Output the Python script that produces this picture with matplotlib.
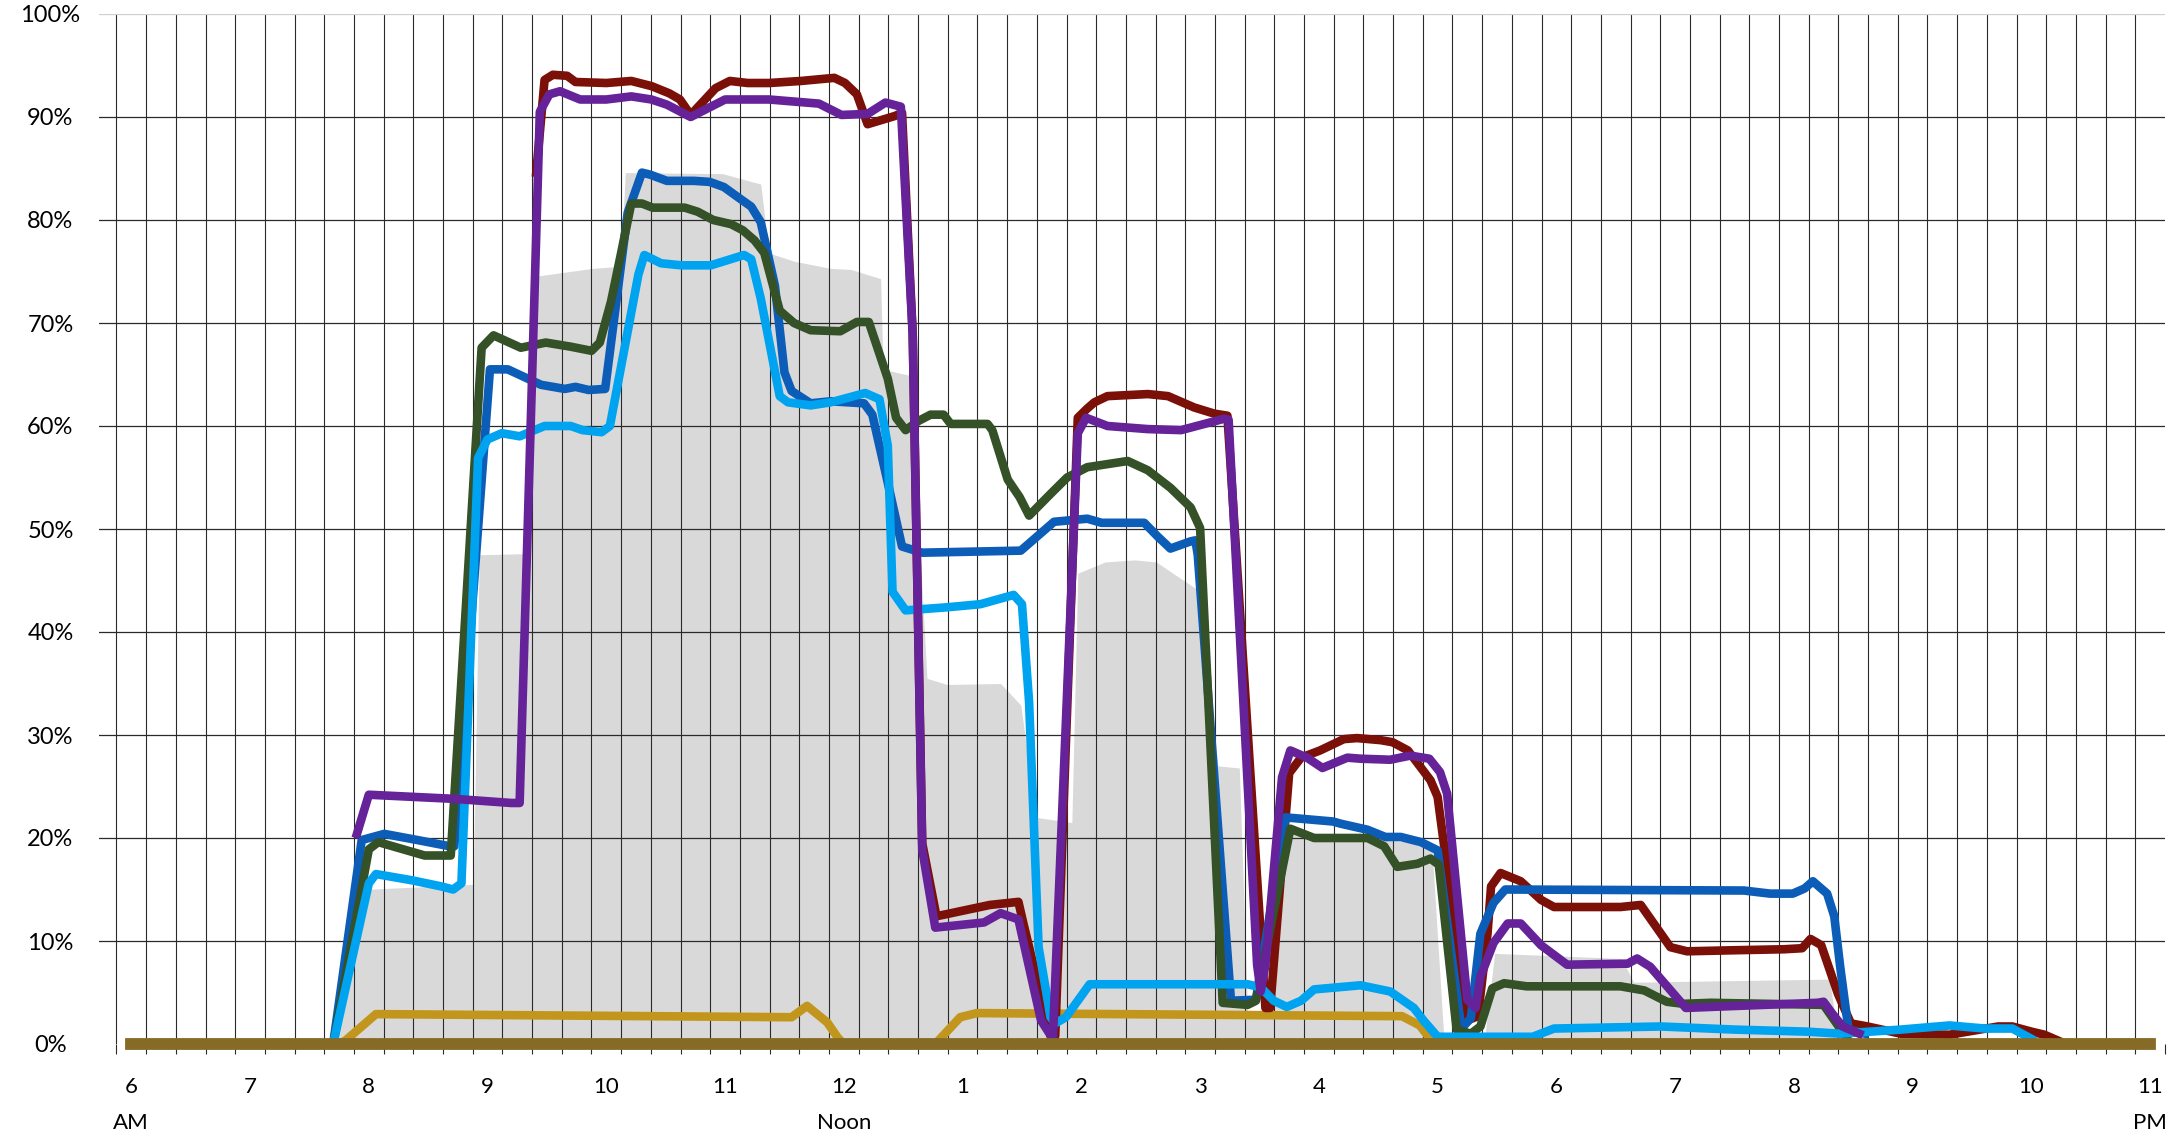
import matplotlib
matplotlib.use('Agg')
import matplotlib.pyplot as plt

# series (hours from midnight, percent)
area_t = [7.70, 7.95, 8.88, 8.93, 9.30, 9.38, 9.88, 10.12, 10.16, 10.98, 11.23, 11.30, 11.37, 11.58, 11.89,
          12.06, 12.31, 12.33, 12.56, 12.70, 12.87, 13.32, 13.49, 13.62, 13.92, 13.97, 14.20, 14.45, 14.63,
          14.81, 14.98, 15.15, 15.33, 15.40, 15.62, 15.72, 16.30, 16.95, 17.05, 17.40, 17.48, 18.55, 18.65,
          20.30, 20.38]
area_v = [0, 15.0, 15.5, 47.5, 47.6, 74.5, 75.3, 75.5, 84.6, 84.5, 83.7, 83.5, 76.8, 76.0, 75.3,
          75.2, 74.3, 65.5, 64.9, 35.5, 34.9, 35.0, 32.9, 22.0, 21.5, 45.7, 46.8, 47.0, 46.8,
          45.4, 44.1, 27.0, 26.8, 3.0, 3.0, 20.5, 20.0, 19.5, 1.0, 1.0, 8.8, 8.3, 6.0,
          6.3, 0]

gold_t = [6.00, 7.74, 7.80, 8.06, 11.56, 11.69, 11.86, 11.95, 12.00, 12.77, 12.98, 13.12, 16.70, 16.85,
          16.97, 23.00]
gold_v = [0, 0, 0.3, 2.9, 2.6, 3.7, 2.1, 0.6, 0, 0, 2.6, 3.0, 2.7, 1.8, 0, 0]

red_t = [9.41, 9.48, 9.55, 9.67, 9.74, 10.00, 10.21, 10.38, 10.53, 10.62, 10.71, 10.92, 11.04, 11.19,
         11.37, 11.64, 11.92, 12.01, 12.11, 12.20, 12.43, 12.49, 12.58, 12.66, 12.78, 13.23, 13.47, 13.51,
         13.74, 13.78, 13.97, 14.05, 14.11, 14.22, 14.56, 14.73, 14.95, 15.12, 15.23, 15.55, 15.59, 15.75,
         15.85, 16.01, 16.21, 16.32, 16.52, 16.62, 16.75, 16.94, 17.00, 17.25, 17.34, 17.42, 17.45, 17.53,
         17.70, 17.87, 17.98, 18.54, 18.71, 18.82, 18.96, 19.10, 19.49, 19.92, 20.07, 20.14, 20.23, 20.37,
         20.48, 20.62, 20.90, 21.31, 21.72, 21.84, 22.00, 22.11, 22.25]
red_v = [84.6, 93.6, 94.1, 94.0, 93.4, 93.3, 93.5, 93.0, 92.3, 91.7, 90.2, 92.8, 93.5, 93.3,
         93.3, 93.5, 93.8, 93.3, 92.2, 89.3, 90.1, 90.4, 69.0, 19.5, 12.4, 13.5, 13.8, 11.8,
         0.8, 0.8, 60.8, 61.7, 62.3, 62.9, 63.1, 62.9, 61.8, 61.2, 61.0, 3.5, 3.5, 26.3,
         27.8, 28.5, 29.6, 29.7, 29.5, 29.3, 28.5, 25.6, 24.0, 2.3, 2.7, 10.7, 15.3, 16.6,
         15.8, 14.0, 13.3, 13.3, 13.5, 11.7, 9.4, 9.0, 9.1, 9.2, 9.3, 10.2, 9.6, 4.9,
         2.0, 1.7, 1.0, 0.9, 1.7, 1.7, 1.2, 0.9, 0.2]

blue_t = [7.70, 7.94, 8.13, 8.41, 8.68, 8.72, 9.02, 9.17, 9.45, 9.65, 9.74, 9.85, 9.99, 10.18, 10.30,
          10.37, 10.51, 10.74, 10.87, 10.99, 11.11, 11.22, 11.30, 11.42, 11.50, 11.56, 11.72, 11.89, 12.17,
          12.24, 12.37, 12.49, 12.66, 13.49, 13.77, 14.05, 14.17, 14.53, 14.64, 14.75, 14.92, 14.96, 14.98,
          15.26, 15.47, 15.72, 16.12, 16.18, 16.41, 16.56, 16.69, 16.86, 17.00, 17.20, 17.28, 17.36, 17.47,
          17.57, 19.58, 19.80, 19.99, 20.09, 20.16, 20.28, 20.34, 20.39, 20.46, 20.60]
blue_v = [0, 19.8, 20.4, 19.8, 19.2, 19.2, 65.5, 65.5, 64.0, 63.6, 63.8, 63.5, 63.6, 80.7, 84.6,
          84.4, 83.8, 83.8, 83.7, 83.2, 82.2, 81.3, 79.8, 73.6, 65.2, 63.4, 62.2, 62.4, 62.2,
          61.1, 54.5, 48.3, 47.7, 47.9, 50.7, 51.0, 50.6, 50.6, 49.3, 48.1, 48.8, 48.9, 47.5,
          4.2, 4.3, 22.0, 21.6, 21.4, 20.8, 20.1, 20.1, 19.6, 18.8, 1.5, 2.5, 10.7, 13.7,
          15.0, 14.9, 14.6, 14.6, 15.1, 15.8, 14.6, 12.4, 7.5, 1.4, 1.0]

green_t = [7.70, 8.00, 8.08, 8.47, 8.69, 8.95, 9.05, 9.28, 9.49, 9.70, 9.875, 9.945, 10.04, 10.13, 10.21,
           10.30, 10.39, 10.66, 10.77, 10.90, 11.05, 11.15, 11.25, 11.33, 11.46, 11.58, 11.72, 11.97, 12.11,
           12.21, 12.37, 12.44, 12.52, 12.63, 12.73, 12.84, 12.90, 13.21, 13.25, 13.38, 13.48, 13.56, 13.74,
           13.88, 14.05, 14.39, 14.56, 14.75, 14.92, 15.00, 15.19, 15.40, 15.47, 15.76, 15.96, 16.41, 16.55,
           16.66, 16.83, 16.94, 17.01, 17.16, 17.28, 17.36, 17.46, 17.56, 17.75, 18.54, 18.74, 18.93, 19.07,
           19.30, 20.25, 20.45]
green_v = [0, 18.9, 19.6, 18.3, 18.3, 67.6, 68.8, 67.6, 68.1, 67.7, 67.3, 68.1, 72.1, 77.1, 81.6,
           81.6, 81.2, 81.2, 80.8, 80.0, 79.6, 79.0, 78.0, 76.8, 71.2, 70.0, 69.3, 69.2, 70.1,
           70.1, 64.6, 60.8, 59.6, 60.5, 61.1, 61.1, 60.2, 60.2, 59.6, 54.8, 53.1, 51.3, 53.4,
           55.0, 56.0, 56.6, 55.7, 54.0, 52.1, 50.1, 4.0, 3.8, 4.2, 20.9, 20.0, 20.0, 19.2,
           17.2, 17.5, 18.0, 17.4, 1.4, 1.0, 1.7, 5.4, 5.9, 5.6, 5.6, 5.2, 4.1, 3.9,
           4.0, 3.8, 0.5]

lblue_t = [7.70, 8.00, 8.06, 8.36, 8.61, 8.71, 8.78, 8.92, 9.00, 9.12, 9.27, 9.48, 9.70, 9.80, 9.96,
           10.03, 10.27, 10.32, 10.46, 10.63, 10.88, 11.02, 11.16, 11.22, 11.30, 11.46, 11.53, 11.72, 11.89,
           12.18, 12.30, 12.37, 12.41, 12.52, 12.87, 13.15, 13.43, 13.50, 13.56, 13.64, 13.74, 13.78, 13.87,
           14.07, 15.40, 15.51, 15.62, 15.73, 15.85, 15.96, 16.35, 16.60, 16.80, 16.88, 17.00, 17.80, 17.98,
           18.88, 19.50, 20.11, 20.39, 20.90, 21.31, 21.61, 21.84, 22.00]
lblue_v = [0, 15.6, 16.5, 15.9, 15.3, 15.0, 15.6, 56.9, 58.7, 59.3, 59.0, 60.0, 60.0, 59.6, 59.4,
           60.0, 74.7, 76.6, 75.8, 75.6, 75.6, 76.1, 76.6, 76.2, 72.4, 62.9, 62.3, 62.0, 62.3,
           63.2, 62.6, 58.1, 43.9, 42.1, 42.4, 42.7, 43.6, 42.7, 33.2, 9.4, 2.6, 2.0, 2.6,
           5.8, 5.8, 5.5, 4.2, 3.6, 4.2, 5.3, 5.7, 5.1, 3.5, 2.3, 0.7, 0.7, 1.5,
           1.7, 1.4, 1.2, 1.0, 1.4, 1.8, 1.5, 1.5, 0.5]

purple_t = [7.90, 8.00, 8.72, 9.20, 9.27, 9.44, 9.52, 9.61, 9.78, 10.00, 10.21, 10.38, 10.51, 10.71, 11.00,
            11.37, 11.79, 11.98, 12.20, 12.35, 12.48, 12.58, 12.66, 12.77, 13.18, 13.32, 13.47, 13.66, 13.76,
            13.97, 14.04, 14.22, 14.56, 14.84, 15.20, 15.24, 15.48, 15.51, 15.55, 15.69, 15.76, 15.90, 16.03,
            16.24, 16.35, 16.60, 16.77, 16.93, 17.02, 17.08, 17.25, 17.32, 17.36, 17.47, 17.59, 17.70, 17.87,
            18.09, 18.60, 18.68, 18.79, 18.91, 19.09, 19.30, 20.20, 20.25, 20.32, 20.41, 20.55]
purple_v = [20.4, 24.2, 23.8, 23.4, 23.4, 90.5, 92.2, 92.5, 91.7, 91.7, 92.0, 91.7, 91.2, 90.0, 91.7,
            91.7, 91.3, 90.2, 90.3, 91.4, 91.0, 68.8, 18.9, 11.3, 11.8, 12.7, 12.1, 2.3, 0.5,
            59.3, 60.8, 60.0, 59.7, 59.6, 60.7, 60.6, 7.7, 5.1, 7.7, 25.9, 28.5, 27.8, 26.8,
            27.8, 27.7, 27.6, 28.0, 27.7, 26.4, 24.3, 4.3, 3.5, 6.5, 9.8, 11.7, 11.7, 9.6,
            7.7, 7.8, 8.3, 7.5, 5.9, 3.5, 3.6, 4.0, 4.1, 3.0, 1.7, 1.0]

base_t = [6.0, 23.0]
base_v = [0, 0]

hour_pos = list(range(6, 24))
hour_labels = ['6', '7', '8', '9', '10', '11', '12', '1', '2', '3', '4', '5', '6', '7', '8', '9', '10', '11']
y_ticks = list(range(0, 101, 10))
y_labels = [f'{v}%' for v in y_ticks]

plt.rcParams['font.family'] = ['Lato', 'DejaVu Sans']

W, H = 2177, 1138
fig = plt.figure(figsize=(W / 100, H / 100), dpi=100)
ax = fig.add_axes([99 / W, 94 / H, (2165 - 99) / W, 1030 / H])
ax.set_xlim(5.728, 23.125)
ax.set_ylim(0, 100)

grid_c = '#2a2a2a'
# 15-minute grid
minor = [5.875 + 0.25 * k for k in range(70)]
ax.set_xticks(minor, minor=True)
ax.vlines(minor[:-1], 0, 100, colors=grid_c, linewidth=0.8, zorder=1)
for y in y_ticks[1:]:
    ax.axhline(y, color=grid_c if y < 100 else '#cfcfcf', linewidth=0.9, zorder=1)

ax.fill_between(area_t, area_v, 0, color='#d9d9d9', linewidth=0, zorder=0.5)

lw = 6.2
ax.plot(gold_t, gold_v, color='#c2951c', lw=lw, zorder=2, clip_on=False)
ax.plot(red_t, red_v, color='#7b1008', lw=lw, zorder=3, clip_on=False)
ax.plot(blue_t, blue_v, color='#0b5db8', lw=lw, zorder=4, clip_on=False)
ax.plot(green_t, green_v, color='#345127', lw=lw, zorder=5, clip_on=False)
ax.plot(lblue_t, lblue_v, color='#00a3ef', lw=lw, zorder=6, clip_on=False)
ax.plot(purple_t, purple_v, color='#652299', lw=lw, zorder=7, clip_on=False)
ax.plot(base_t, base_v, color='#866b26', lw=8.5, zorder=8, clip_on=False,
        solid_capstyle='projecting')

for s in ax.spines.values():
    s.set_visible(False)

ax.set_yticks(y_ticks)
ax.set_yticklabels(y_labels, fontsize=17)
ax.tick_params(axis='y', length=0, pad=35)
for t in ax.get_yticklabels():
    t.set_horizontalalignment('center')

ax.set_xticks(hour_pos)
ax.set_xticklabels(hour_labels, fontsize=16)
ax.tick_params(axis='x', which='major', length=0, pad=24)
ax.tick_params(axis='x', which='minor', length=7.2, width=0.8, color=grid_c)

tr = ax.get_xaxis_transform()
ax.text(6, -79 / 1030, 'AM', transform=tr, ha='center', va='center', fontsize=16)
ax.text(12, -79 / 1030, 'Noon', transform=tr, ha='center', va='center', fontsize=16)
ax.text(23, -79 / 1030, 'PM', transform=tr, ha='center', va='center', fontsize=16)

fig.savefig('out.png', dpi=100)
